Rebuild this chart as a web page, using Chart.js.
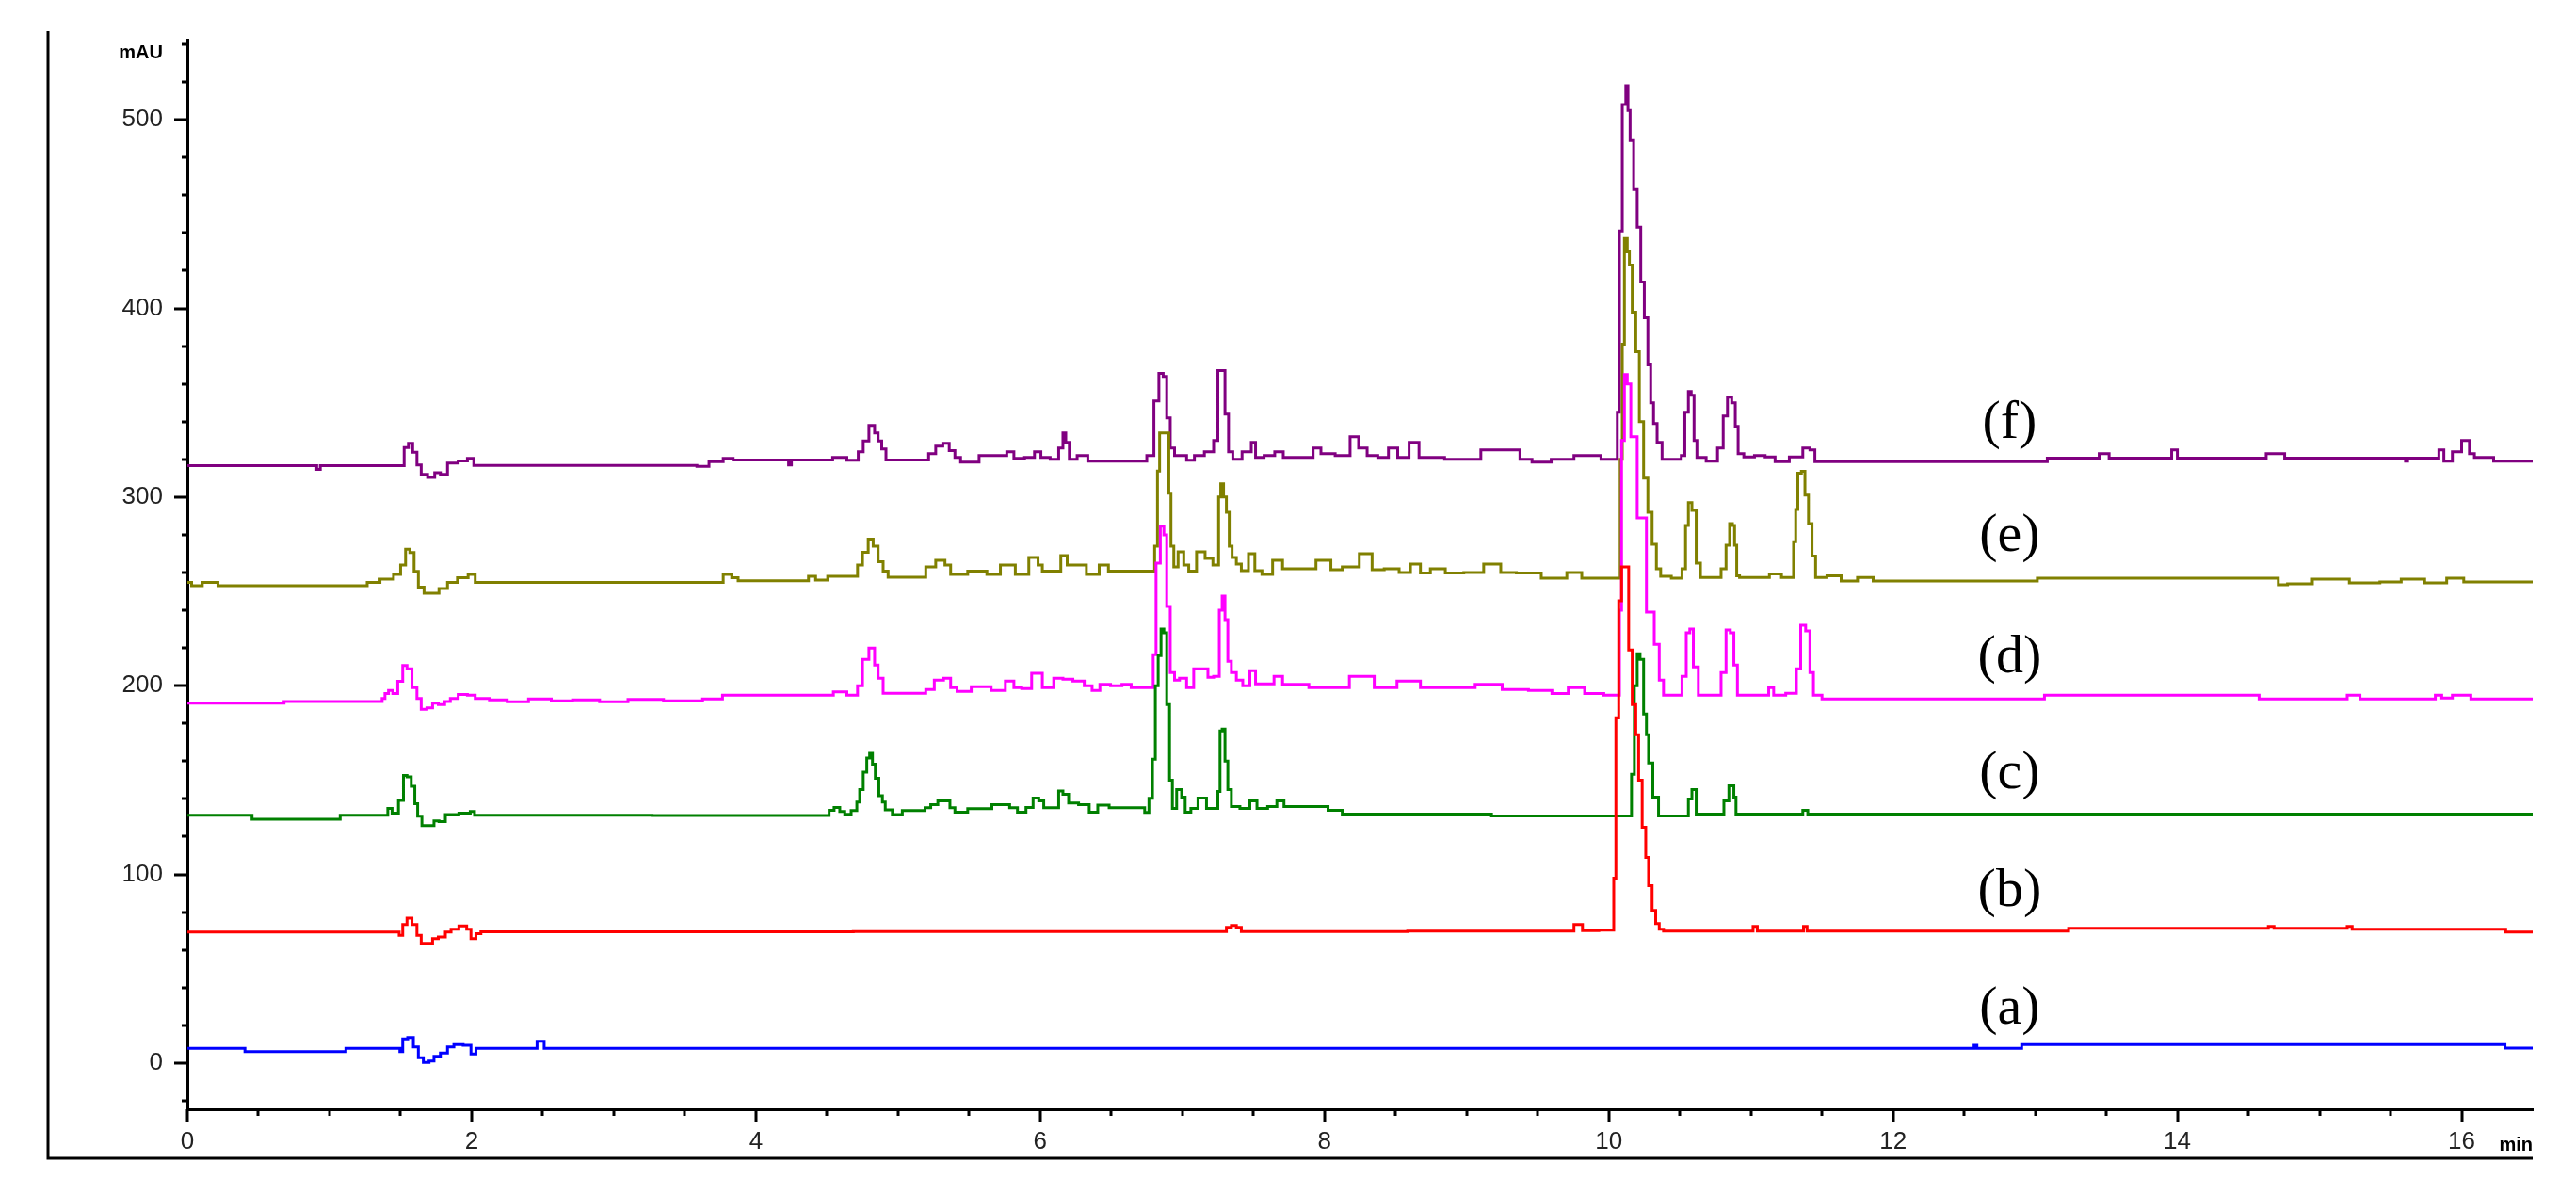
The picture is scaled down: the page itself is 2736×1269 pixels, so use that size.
<!DOCTYPE html>
<html>
<head>
<meta charset="utf-8">
<script src="https://cdn.jsdelivr.net/npm/chart.js@4.4.1/dist/chart.umd.min.js"></script>
<style>
html,body{margin:0;padding:0;background:#fff;}
canvas{display:block;}
</style>
</head>
<body>
<canvas id="c" width="2736" height="1269"></canvas>
<script>
// ---- axis settings ----
const xMin = 0, xMax = 16.5;
const yMin = -24.5, yMax = 542.5;
const xMajorTicks = [0, 2, 4, 6, 8, 10, 12, 14, 16];
const xMinorTicks = [0.5, 1, 1.5, 2.5, 3, 3.5, 4.5, 5, 5.5, 6.5, 7, 7.5, 8.5, 9, 9.5, 10.5, 11, 11.5, 12.5, 13, 13.5, 14.5, 15, 15.5];
const yMajorTicks = [0, 100, 200, 300, 400, 500];
const yMinorTicks = [-20, 20, 40, 60, 80, 120, 140, 160, 180, 220, 240, 260, 280, 320, 340, 360, 380, 420, 440, 460, 480, 520, 540];
const yUnit = 'mAU';
const xUnit = 'min';

// ---- series: [time (min), absorbance (mAU)] ----
const seriesNames = ['(a)', '(b)', '(c)', '(d)', '(e)', '(f)'];
const seriesColors = ['#0000FF', '#FF0000', '#008000', '#FF00FF', '#808000', '#800080'];
const labelTime = 12.82;
const labelValues = [28.4, 90.8, 153.2, 214.9, 279, 338.8];

const traceA = [[0,7.8],[0.4,7.8],[0.41,6.1],[1.11,6.1],[1.12,7.8],[1.49,7.8],[1.5,6.1],[1.53,12.8],[1.57,13.6],[1.61,8.6],[1.64,2.8],[1.68,0.3],[1.72,1.1],[1.75,3.6],[1.81,5.3],[1.85,8.6],[1.9,9.8],[1.98,9.5],[2.01,4.8],[2.05,7.8],[2.43,7.8],[2.49,11.5],[2.53,7.8],[12.56,7.8],[12.58,9.5],[12.6,7.8],[12.9,7.8],[12.91,9.8],[16.3,9.8],[16.31,8],[16.5,8]];

const traceB = [[0,69.4],[1.48,69.4],[1.5,67.7],[1.53,73.5],[1.56,76.8],[1.6,73.5],[1.63,67.7],[1.66,63.5],[1.71,63.5],[1.74,66],[1.79,66.9],[1.84,69.4],[1.87,71],[1.95,72.7],[1.98,71],[2.01,66],[2.05,68.6],[2.08,69.6],[7.29,69.7],[7.33,72],[7.36,73],[7.4,72],[7.43,69.7],[9.74,69.9],[9.77,73.4],[9.8,73.4],[9.83,70.2],[10.03,70.4],[10.04,98],[10.06,183],[10.08,245],[10.1,263],[10.13,263],[10.15,219],[10.18,190],[10.2,174],[10.22,150],[10.25,125],[10.27,109],[10.29,94],[10.32,81],[10.34,74],[10.37,71],[10.4,70],[11.0,70],[11.03,72.5],[11.06,70],[11.36,70],[11.38,72.5],[11.41,70],[13.22,70],[13.25,71.5],[14.62,71.5],[14.66,72.5],[14.7,71.5],[15.18,71.5],[15.21,72.5],[15.25,71],[16.3,71],[16.32,69.5],[16.5,69.5]];

const traceC = [[0,131.4],[0.45,131.4],[0.46,129.2],[1.07,129.2],[1.08,131.4],[1.4,131.4],[1.42,135],[1.46,132.5],[1.51,139.2],[1.53,152.5],[1.56,151.7],[1.59,146.7],[1.61,137.5],[1.63,130.9],[1.67,125.9],[1.72,125.9],[1.75,128.4],[1.79,128],[1.84,131.7],[1.98,132.5],[2.0,133.4],[2.04,131.4],[4.5,131.2],[4.53,134],[4.57,135.5],[4.61,133.4],[4.64,131.8],[4.7,133.9],[4.72,138.4],[4.74,145],[4.77,154.2],[4.79,161.7],[4.81,164.2],[4.83,158.4],[4.85,150.9],[4.88,141.7],[4.9,138.4],[4.92,134.2],[5.0,131.7],[5.06,133.9],[5.18,133.9],[5.2,135.3],[5.26,137],[5.3,139],[5.35,139],[5.38,135.3],[5.42,133],[5.56,134.9],[5.76,137],[5.81,135.3],[5.87,133],[5.93,135.5],[5.97,140.5],[6.01,139],[6.04,135.3],[6.12,135.3],[6.14,144.2],[6.18,142.5],[6.22,137.8],[6.32,137],[6.37,133],[6.44,136.7],[6.53,135.3],[6.72,135.3],[6.75,132.8],[6.78,140.3],[6.8,161],[6.82,200],[6.84,216],[6.86,230],[6.88,228],[6.9,190],[6.92,150],[6.94,135],[6.98,145],[7.01,141],[7.03,133],[7.09,135],[7.13,140.5],[7.16,140.5],[7.18,135],[7.24,135],[7.26,144],[7.27,176],[7.29,177],[7.31,160],[7.33,145],[7.36,136],[7.45,135],[7.5,139],[7.55,135],[7.65,136],[7.68,139],[7.75,136],[8.0,136],[8.05,134],[8.2,132],[10.15,131],[10.17,153],[10.19,200],[10.21,217],[10.23,214],[10.26,185],[10.27,174],[10.29,159],[10.33,141],[10.37,131],[10.55,131],[10.57,140],[10.6,145],[10.63,132],[10.8,132],[10.82,139],[10.87,147],[10.89,141],[10.9,132],[11.35,132],[11.38,134],[11.42,132],[16.5,132]];

const traceD = [[0,190.8],[1.36,191.6],[1.38,193.3],[1.4,195.8],[1.43,197.5],[1.46,195.8],[1.5,202.4],[1.53,210.7],[1.56,209],[1.6,199],[1.63,193.3],[1.66,187.5],[1.71,188.3],[1.74,190.8],[1.79,190],[1.83,191.6],[1.87,193.3],[1.94,195.4],[2.0,195],[2.05,193.3],[2.2,192.5],[2.3,191.5],[2.5,193],[2.62,192],[2.8,192.5],[3.0,191.5],[3.2,192.8],[3.5,192],[3.75,193],[3.78,195],[3.86,195],[4.51,195],[4.58,196.7],[4.7,195],[4.73,200],[4.77,214],[4.82,220],[4.85,211],[4.87,204],[4.92,196],[5.17,196],[5.22,198],[5.29,203],[5.35,204],[5.39,199],[5.44,197],[5.59,199.5],[5.72,197.5],[5.79,202.5],[5.84,199],[5.9,198.5],[5.98,206.6],[6.05,199],[6.14,204],[6.18,203.5],[6.28,202.5],[6.34,200],[6.39,197.5],[6.45,200.7],[6.54,200],[6.61,200.7],[6.67,199],[6.79,199],[6.8,216.5],[6.83,265],[6.86,284.6],[6.88,280],[6.9,242],[6.93,207],[6.96,203],[7.0,204],[7.06,199],[7.1,209],[7.17,209],[7.19,204.5],[7.25,205],[7.27,240],[7.29,247.5],[7.31,235],[7.33,213],[7.36,207],[7.4,203],[7.45,200],[7.5,208],[7.53,201],[7.62,201],[7.67,205],[7.74,200.7],[8.04,199],[8.31,205],[8.39,199],[8.63,202.5],[8.72,199],[8.92,199],[9.2,200.7],[9.3,198],[9.57,197.5],[9.63,195.8],[9.8,199],[9.86,195.8],[10.07,195],[10.08,240],[10.1,330],[10.12,365],[10.14,360],[10.17,332],[10.23,289],[10.3,239],[10.34,222],[10.37,203],[10.4,195],[10.5,195],[10.53,205],[10.56,228],[10.58,230],[10.61,210],[10.65,195],[10.77,195],[10.81,207],[10.84,229.5],[10.87,228],[10.89,211],[10.92,195],[11.11,195],[11.14,199],[11.18,195],[11.31,196],[11.33,209],[11.37,232],[11.4,229],[11.43,207],[11.45,195],[11.55,193],[13.06,193],[13.07,195],[14.57,195],[14.58,193],[15.19,193],[15.2,195],[15.28,195],[15.29,193],[15.81,193],[15.82,195],[15.9,193.5],[15.97,195],[16.06,195],[16.07,193],[16.5,193]];

const traceE = [[0,254.8],[0.06,253],[0.15,254.8],[0.21,254.8],[0.22,253],[1.24,253],[1.29,254.8],[1.42,256.5],[1.48,259],[1.52,264],[1.55,272.3],[1.58,270.6],[1.61,260.6],[1.64,252.3],[1.69,249],[1.74,249],[1.8,251.5],[1.86,254.8],[1.94,257.3],[2.01,259],[2.04,254.8],[3.74,254.8],[3.8,259],[3.86,257.3],[3.89,255.6],[4.36,255.6],[4.38,258],[4.46,256],[4.55,258],[4.7,258],[4.73,264],[4.77,270.7],[4.81,277.7],[4.84,274],[4.88,265.7],[4.91,260.7],[4.95,257.5],[5.17,257.5],[5.22,263],[5.31,266.5],[5.35,264],[5.39,259],[5.59,260.7],[5.66,259],[5.78,264],[5.87,259],[5.97,268],[6.0,264],[6.03,260.7],[6.12,260.7],[6.17,269],[6.21,264],[6.28,264],[6.37,259],[6.46,264],[6.5,260.7],[6.79,260.7],[6.82,274],[6.83,313.8],[6.85,334],[6.9,334],[6.91,302],[6.93,274],[6.95,263],[6.99,271],[7.03,264],[7.06,260.7],[7.14,271],[7.18,267.5],[7.25,264],[7.26,300],[7.28,307],[7.3,300],[7.32,292],[7.34,274],[7.36,268],[7.4,264.5],[7.43,261],[7.5,270],[7.52,261],[7.6,259],[7.67,266.5],[7.74,262],[7.86,262],[8.02,266.5],[8.07,261.5],[8.18,263],[8.31,270],[8.36,261.5],[8.48,262],[8.57,260],[8.64,264.5],[8.71,259.8],[8.78,262],[8.92,259.8],[9.04,260],[9.2,264.5],[9.28,260],[9.42,259.8],[9.63,257],[9.78,260],[9.84,257],[10.07,257],[10.09,320],[10.1,381],[10.12,437],[10.14,430],[10.15,423],[10.18,398],[10.2,377],[10.23,340],[10.26,310],[10.29,292],[10.32,275],[10.35,262],[10.38,258],[10.5,257],[10.53,262],[10.55,285],[10.57,297],[10.6,293],[10.63,265],[10.66,257.4],[10.77,257.4],[10.81,262],[10.84,274.5],[10.86,286],[10.88,285],[10.89,274.5],[10.91,258.3],[10.93,257.4],[11.12,257.4],[11.14,259.3],[11.2,259.3],[11.23,257.4],[11.29,257.4],[11.31,276.4],[11.32,293.5],[11.34,312.6],[11.37,313.6],[11.39,301],[11.42,286],[11.44,268.7],[11.47,257.4],[11.6,258.3],[11.67,255.5],[11.83,257.4],[11.89,255.5],[13.01,255.5],[13.02,257],[14.7,257],[14.72,253.5],[14.83,254],[15.07,256.5],[15.35,254.5],[15.5,255],[15.65,256.5],[15.83,254.5],[15.96,257],[16.07,255],[16.5,255]];

const traceF = [[0,316.7],[0.9,316.7],[0.92,314.7],[0.95,316.7],[1.51,316.7],[1.54,326.3],[1.57,328.5],[1.6,323.8],[1.63,317],[1.66,312],[1.72,310.4],[1.76,312.9],[1.8,312],[1.86,318],[1.95,319.2],[1.99,320.5],[2.04,316.8],[3.56,316.8],[3.61,316.3],[3.73,318.8],[3.81,320.5],[3.87,319.7],[4.22,319.7],[4.24,317],[4.26,319.7],[4.53,319.7],[4.55,321],[4.62,321],[4.66,319.5],[4.7,319.5],[4.74,324],[4.77,329.7],[4.82,338],[4.85,334],[4.87,329.7],[4.9,325.5],[4.93,319.7],[5.19,319.7],[5.24,323],[5.29,327],[5.34,328.5],[5.38,324.6],[5.42,321],[5.46,318.5],[5.55,318.5],[5.59,322],[5.74,322],[5.79,324],[5.84,320.5],[5.94,321],[5.98,324],[6.03,321],[6.11,320],[6.15,326],[6.17,334],[6.19,329],[6.22,320],[6.3,322],[6.37,319],[6.72,319],[6.78,322],[6.82,351],[6.85,365.5],[6.88,364],[6.9,342],[6.93,326],[6.96,322],[7.0,322],[7.06,319.5],[7.11,322],[7.2,324],[7.24,330],[7.26,367],[7.29,367],[7.31,344],[7.34,324],[7.37,320],[7.47,324],[7.5,329],[7.53,321],[7.62,322],[7.68,324],[7.74,321],[7.89,321],[7.95,326],[8.0,323],[8.15,322],[8.21,332],[8.27,326],[8.33,322],[8.42,321],[8.48,326],[8.55,321],[8.64,329],[8.69,321],[9.0,320],[9.2,325],[9.35,325],[9.4,320],[9.52,318.5],[9.67,320],[9.84,322],[10.05,320],[10.07,345],[10.08,441],[10.11,508],[10.13,518],[10.14,505],[10.16,489],[10.19,463],[10.21,443],[10.24,414],[10.26,395],[10.29,370],[10.3,350],[10.33,339],[10.35,329],[10.4,320],[10.5,320],[10.52,322],[10.55,345],[10.57,356],[10.59,354],[10.61,330],[10.63,321],[10.74,319],[10.79,326],[10.82,343],[10.85,353],[10.88,350],[10.9,337.5],[10.92,323],[10.98,321.3],[11.07,322],[11.13,321.3],[11.21,318.8],[11.33,321.3],[11.4,326],[11.43,325],[11.47,318.8],[13.08,318.8],[13.09,320.7],[13.44,320.7],[13.46,323],[13.51,323],[13.53,320.7],[13.94,320.7],[13.98,325],[14.02,320.7],[14.62,320.7],[14.63,323],[14.75,323],[14.76,320.7],[15.6,320.7],[15.61,319],[15.63,320.7],[15.83,320.7],[15.85,325],[15.9,319],[15.97,324],[16.03,330],[16.08,323],[16.1,321],[16.22,321],[16.23,319],[16.5,319]];

const traces = [traceA, traceB, traceC, traceD, traceE, traceF];

// ---- decoration plugin: frame, tick marks, unit labels, trace labels ----
const decoPlugin = {
  id: 'deco',
  afterDraw(chart) {
    const ctx = chart.ctx;
    const xs = chart.scales.x, ys = chart.scales.y;
    const ca = chart.chartArea;
    ctx.save();
    ctx.strokeStyle = '#000';
    ctx.lineWidth = 3;
    ctx.beginPath();
    ctx.moveTo(51, 33);
    ctx.lineTo(51, 1230);
    ctx.lineTo(ca.right, 1230);
    ctx.stroke();
    ctx.beginPath();
    yMajorTicks.forEach(v => { const p = Math.round(ys.getPixelForValue(v)); ctx.moveTo(ca.left - 14, p); ctx.lineTo(ca.left, p); });
    yMinorTicks.forEach(v => { const p = Math.round(ys.getPixelForValue(v)); ctx.moveTo(ca.left - 6, p); ctx.lineTo(ca.left, p); });
    xMajorTicks.forEach(v => { const p = Math.round(xs.getPixelForValue(v)); ctx.moveTo(p, ca.bottom); ctx.lineTo(p, ca.bottom + 14); });
    xMinorTicks.forEach(v => { const p = Math.round(xs.getPixelForValue(v)); ctx.moveTo(p, ca.bottom); ctx.lineTo(p, ca.bottom + 7); });
    ctx.stroke();
    ctx.fillStyle = '#000';
    ctx.font = 'bold 20px "Liberation Sans", Arial, sans-serif';
    ctx.textAlign = 'right';
    ctx.textBaseline = 'middle';
    ctx.fillText(yUnit, 173, 56);
    ctx.fillText(xUnit, ca.right, 1216);
    ctx.font = '58px "Liberation Serif", "Times New Roman", serif';
    ctx.textAlign = 'center';
    ctx.textBaseline = 'middle';
    seriesNames.forEach((n, i) => {
      ctx.fillText(n, xs.getPixelForValue(labelTime), ys.getPixelForValue(labelValues[i]));
    });
    ctx.restore();
  }
};

const tickFont = { family: '"Liberation Sans", Arial, sans-serif', size: 26 };

new Chart(document.getElementById('c'), {
  type: 'line',
  data: {
    datasets: traces.map((t, i) => ({
      label: seriesNames[i],
      data: t.map(p => ({ x: p[0], y: p[1] })),
      borderColor: seriesColors[i],
      backgroundColor: seriesColors[i],
      borderWidth: 3,
      pointRadius: 0,
      tension: 0,
      stepped: 'middle',
      fill: false
    }))
  },
  options: {
    responsive: false,
    animation: false,
    devicePixelRatio: 1,
    layout: { padding: { left: 0, top: 42, right: 46, bottom: 0 } },
    plugins: { legend: { display: false }, tooltip: { enabled: false } },
    scales: {
      x: {
        type: 'linear', min: xMin, max: xMax,
        grid: { display: false, drawTicks: false },
        border: { display: true, color: '#000', width: 3 },
        ticks: { font: tickFont, color: '#222', padding: 19, maxRotation: 0, autoSkip: false },
        afterBuildTicks: s => { s.ticks = xMajorTicks.map(v => ({ value: v })); },
        afterFit: s => { s.height = 91; }
      },
      y: {
        type: 'linear', min: yMin, max: yMax,
        grid: { display: false, drawTicks: false },
        border: { display: true, color: '#000', width: 3 },
        ticks: { font: tickFont, color: '#222', padding: 26, autoSkip: false },
        afterBuildTicks: s => { s.ticks = yMajorTicks.map(v => ({ value: v })); },
        afterFit: s => { s.width = 199; }
      }
    }
  },
  plugins: [decoPlugin]
});
</script>
</body>
</html>
